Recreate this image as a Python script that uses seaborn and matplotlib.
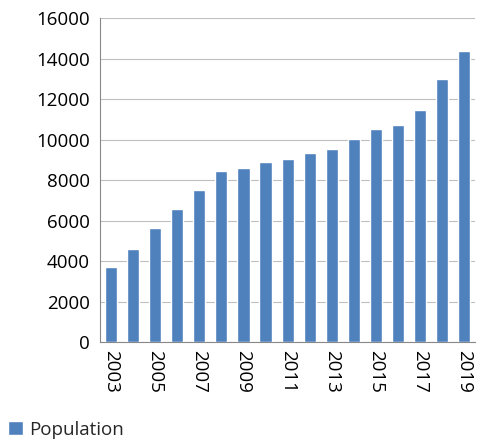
import matplotlib
matplotlib.use("Agg")
import matplotlib.pyplot as plt
import seaborn as sns
import pandas as pd

years = list(range(2003, 2020))
population = [3700, 4600, 5650, 6550, 7500, 8450, 8600, 8900, 9050, 9350,
              9550, 10050, 10500, 10700, 11450, 13000, 14400]

df = pd.DataFrame({"year": [str(y) for y in years], "population": population})

sns.set_style("white")
plt.rcParams['font.family'] = ['Open Sans', 'DejaVu Sans']

fig = plt.figure(figsize=(4.83, 4.42), dpi=100)
ax = fig.add_axes([0.207, 0.226, 0.777, 0.733])

sns.barplot(data=df, x="year", y="population", color="#4F81BD", saturation=1,
            width=0.55, ax=ax, label="Population", zorder=3)

ax.set_ylim(0, 16000)
ax.set_yticks(range(0, 16001, 2000))
ax.yaxis.grid(True, color="#bfbfbf", lw=0.8, zorder=0)
ax.set_xticks(range(0, len(years), 2))
ax.set_xticklabels([str(y) for y in years[::2]], rotation=270)
ax.set_xticks([i + 0.5 for i in range(-1, len(years))], minor=True)
ax.tick_params(axis="both", labelsize=13.5, labelcolor="black", length=0)
ax.tick_params(axis="y", length=4, color="#888888", direction="out")
ax.tick_params(axis="x", which="minor", length=4, color="#888888", direction="out")
ax.tick_params(axis="x", pad=6)
ax.set_xlabel("")
ax.set_ylabel("")
for s in ["top", "right"]:
    ax.spines[s].set_visible(False)
for s in ["left", "bottom"]:
    ax.spines[s].set_color("#888888")
ax.set_xlim(-0.5, len(years) - 0.5)

ax.legend(loc="lower left", bbox_to_anchor=(-0.29, -0.35), frameon=False,
          fontsize=13.5, handlelength=0.8, handleheight=0.8, handletextpad=0.3)

fig.savefig("out.png", dpi=100)
